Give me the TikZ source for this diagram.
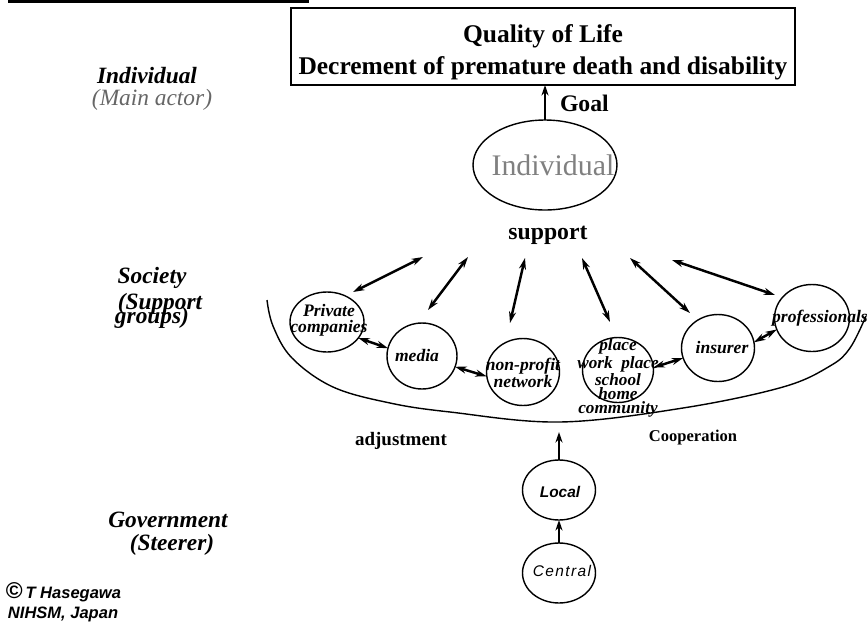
\documentclass[tikz,border=0pt]{standalone}
\usepackage{fontspec}
\setmainfont{Liberation Serif}
\setsansfont{Liberation Sans}
\usetikzlibrary{arrows.meta,shapes.geometric}

\begin{document}
\begin{tikzpicture}[x=0.02cm,y=-0.02cm,
  every node/.style={inner sep=0pt, outer sep=0pt},
  grp/.style={draw, ellipse, line width=0.8pt, inner sep=0pt},
  side/.style={font=\bfseries\itshape\fontsize{13.3}{14}\selectfont},
  ctext/.style={font=\bfseries\itshape\fontsize{10}{9}\selectfont, align=center},
  bold/.style={font=\bfseries\fontsize{#1}{#1}\selectfont},
  dbl/.style={{Stealth[length=6.5pt,width=4pt]}-{Stealth[length=6.5pt,width=4pt]}, line width=1.4pt},
  uparr/.style={-{Stealth[length=6pt,width=4pt]}, line width=1.5pt}]

\useasboundingbox (0,0) rectangle (867,623);

% heading rule
\draw[line width=1.7pt] (8,1.5) -- (309,1.5);

% goal box
\node[draw, line width=0.8pt, minimum width=10.08cm, minimum height=1.54cm] (box) at (543,46.5) {};
\node[bold=14.5] (qol) at (543,36) {Quality of Life};
\node[bold=14.5] (dec) at (543,68) {Decrement of premature death and disability};

% individual
\node[grp, minimum width=2.88cm, minimum height=1.8cm] (ind) at (545,165) {};
\node[font=\fontsize{17}{17}\selectfont, text=black!50] (indt) at (553,165) {Individual};
\draw[uparr] (ind.north) -- (ind.north |- box.south);
\node[bold=13.5, anchor=west] (goal) at (560,103) {Goal};
\node[bold=13.5] (sup) at (548,235) {support};

% side labels
\node[side] (l1) at (147,76) {Individual};
\node[side, text=black!60, font=\itshape\fontsize{13.3}{14}\selectfont] (l2) at (152,100) {(Main actor)};
\node[side] (l3) at (152,278) {Society};
\node[side] (l4) at (160,304) {(Support};
\node[side] (l5) at (152,318) {groups)};
\node[side] (l6) at (168,520) {Government};
\node[side] (l7) at (172,545) {(Steerer)};

% society arc
\draw[line width=0.8pt] plot[smooth, tension=0.6] coordinates {(267,300) (273,326) (292,358) (333,387) (390,403) (450,412) (560,422) (683,408) (783,387) (830,366) (850,348) (866,316)};

% support groups
\node[grp, minimum width=1.48cm, minimum height=1.2cm] (pc) at (327,322) {};
\node[ctext] (pct) at (329,320) {Private\\companies};
\node[grp, minimum width=1.4cm, minimum height=1.32cm] (med) at (422,356) {};
\node[ctext] (medt) at (417,355) {media};
\node[grp, minimum width=1.46cm, minimum height=1.34cm] (npo) at (523,372) {};
\node[ctext, font=\bfseries\itshape\fontsize{10}{7.4}\selectfont] (npot) at (523,373) {non-profit\\network};
\node[grp, minimum width=1.42cm, minimum height=1.3cm] (plc) at (618,370) {};
\node[ctext, font=\bfseries\itshape\fontsize{9.8}{6.5}\selectfont] (plct) at (618,378) {place\\work\ \ place\\school\\home\\community};
\node[grp, minimum width=1.46cm, minimum height=1.34cm] (ins) at (718,348) {};
\node[ctext] (inst) at (722,348) {insurer};
\node[grp, minimum width=1.5cm, minimum height=1.34cm] (pro) at (812,318) {};
\node[ctext] (prot) at (820,318) {professionals};

% links between groups
\draw[dbl] (pc.-27) -- (med.167);
\draw[dbl] (med.-18) -- (npo.-173);
\draw[dbl] (plc.4) -- (ins.196);
\draw[dbl] (ins.9) -- (pro.198);

% support links
\coordinate (s1) at (423,257); \coordinate (t1) at (353,292);
\coordinate (s2) at (468,257); \coordinate (t2) at (428,310);
\coordinate (s3) at (525,258); \coordinate (t3) at (510,323);
\coordinate (s4) at (582,258); \coordinate (t4) at (610,322);
\coordinate (s5) at (630,258); \coordinate (t5) at (690,313);
\coordinate (s6) at (672,260); \coordinate (t6) at (775,295);
\foreach \i in {1,...,6} { \draw[dbl] (s\i) -- (t\i); }

\node[bold=10.8] (adj) at (401,441) {adjustment};
\node[bold=9.4] (coop) at (693,438) {Cooperation};

% government
\node[grp, minimum width=1.46cm, minimum height=1.2cm] (loc) at (559,490) {};
\node[font=\sffamily\bfseries\itshape\fontsize{8.8}{9}\selectfont] (loct) at (560,492) {Local};
\node[grp, minimum width=1.46cm, minimum height=1.2cm] (cen) at (559,573) {};
\node[font=\sffamily\itshape\fontsize{8.8}{9}\selectfont\addfontfeatures{LetterSpace=9}] (cent) at (562,571) {Central};
\coordinate (arcb) at (559,432);
\draw[uparr] (loc.north) -- (arcb);
\draw[uparr] (cen.north) -- (loc.south);

% credit
\node[anchor=west, font=\sffamily\fontsize{9.4}{10}\selectfont] (cr1) at (6,592) {{\fontsize{13}{13}\selectfont\bfseries ©}\,{\bfseries\itshape T Hasegawa}};
\node[anchor=west, font=\sffamily\bfseries\itshape\fontsize{9.4}{10}\selectfont] (cr2) at (8,614) {NIHSM, Japan};
\end{tikzpicture}
\end{document}
